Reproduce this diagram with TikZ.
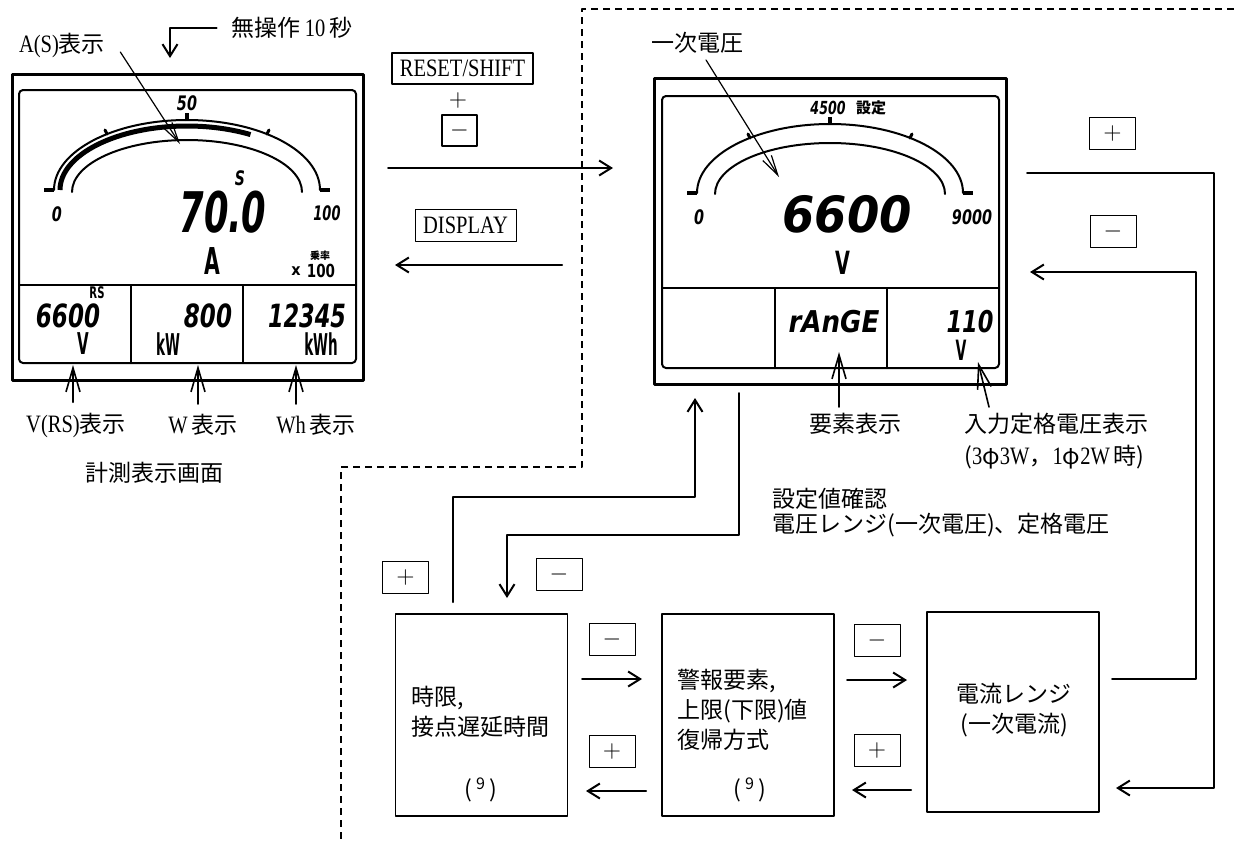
\documentclass[tikz,border=0pt]{standalone}
\usepackage{fontspec}
\setmainfont{Noto Sans CJK JP}
\newfontfamily\mono{Liberation Serif}[FakeStretch=0.82]
\newfontfamily\lcdf{DejaVu Sans}
\usetikzlibrary{calc,arrows.meta}
\newcommand{\latn}[1]{{\mono\fontsize{12.5}{15}\selectfont #1}}
\newcommand{\seg}[3]{\scalebox{#2}[1]{\fontsize{#1}{#1}\selectfont #3}}

\begin{document}
\begin{tikzpicture}[x=0.5pt,y=-0.5pt,line join=round,line cap=round,
  font=\fontsize{11.5}{15}\selectfont,
  >={Straight Barb[length=6pt,width=7.5pt]},
  meter/.style={draw,line width=1.5pt,inner sep=0,outer sep=0,minimum width=175.5pt,minimum height=153pt},
  lcd/.style={font=\lcdf\bfseries\itshape,inner sep=0},
  unit/.style={font=\lcdf\bfseries,inner sep=0},
  flow/.style={line width=1pt},
  pointer/.style={line width=0.6pt,-{Straight Barb[length=10pt,width=5pt]}},
  pin/.style={line width=0.8pt,-{Straight Barb[length=12pt,width=7pt]}},
  flowbox/.style={draw,line width=0.8pt,inner sep=0,outer sep=0,minimum width=86pt,minimum height=101pt},
  key/.style={draw,line width=0.5pt,inner sep=0,minimum width=23pt,minimum height=16pt},
  lbl/.style={inner sep=1pt}]
\useasboundingbox (0,0) rectangle (1234,842);

% dashed border of the setting area
\draw[line width=0.6pt,line cap=butt,dash pattern=on 3.5pt off 2.5pt] (1234,9) -- (582,9) -- (582,467) -- (341,467) -- (341,842);

% left meter
\node[meter] (lm) at (187.5,227) {};
\draw[line width=1pt,rounded corners=2pt] (19,90) rectangle (356,363);
\draw[line width=1pt] (19,285) -- (356,285) (131,285) -- (131,363) (243,285) -- (243,363);
\draw[line width=1pt] (54,190) arc[start angle=180,end angle=360,x radius=133,y radius=70];
\draw[line width=1pt] (72,192) arc[start angle=180,end angle=360,x radius=115,y radius=52];
\draw[line width=2.5pt,line cap=butt] (60,190) arc[start angle=180,end angle=300,x radius=127,y radius=64];
\draw[line width=2pt,line cap=butt] (44,190) -- (54,190) (320,190) -- (330,190) (187,121) -- (187,113);
\draw[line width=1.5pt] (107,134) -- (105,130) (267,134) -- (269,130);
\node[lcd] (l50) at (187,103) {\seg{10}{0.72}{50}};
\node[lcd] (lS) at (240,178) {\seg{10}{0.7}{S}};
\node[lcd] (l70) at (223,212) {\seg{28}{0.63}{70.0}};
\node[lcd] (l0) at (57,214) {\seg{10}{0.72}{0}};
\node[lcd] (l100) at (327,213) {\seg{10}{0.65}{100}};
\node[unit] (lA) at (212,261) {\seg{18.5}{0.55}{A}};
\node[unit] (lx) at (296,271) {\seg{8}{0.9}{x}};
\node[unit] (lmul) at (321,271) {\seg{9}{0.75}{100}};
\node[inner sep=0,font=\bfseries] (lrate) at (320,256) {\seg{5}{1}{乗率}};
\node[lcd] (lv) at (68,316) {\seg{16}{0.72}{6600}};
\node[unit] (lrs) at (97,293) {\seg{8}{0.63}{RS}};
\node[unit] (lvu) at (83,344) {\seg{15}{0.5}{V}};
\node[lcd] (lw) at (208,316) {\seg{16}{0.72}{800}};
\node[unit] (lwu) at (168,344) {\seg{15}{0.45}{kW}};
\node[lcd] (lwh) at (307,316) {\seg{16}{0.7}{12345}};
\node[unit] (lwhu) at (321,344) {\seg{15}{0.45}{kWh}};

% right meter
\node[meter,minimum width=176pt] (rm) at (830,231) {};
\draw[line width=1pt,rounded corners=2pt] (662,96) rectangle (999,368);
\draw[line width=1pt] (662,288) -- (999,288) (775,288) -- (775,368) (887,288) -- (887,368);
\draw[line width=1pt] (697,193) arc[start angle=180,end angle=360,x radius=133,y radius=69];
\draw[line width=1pt] (715,194) arc[start angle=180,end angle=360,x radius=115,y radius=51];
\draw[line width=2pt,line cap=butt] (687,193) -- (697,193) (963,193) -- (973,193) (830,125) -- (830,117);
\draw[line width=1.5pt] (750,138) -- (748,134) (910,138) -- (912,134);
\node[lcd] (r4500) at (828,108) {\seg{9}{0.7}{4500}};
\node[inner sep=0,font=\bfseries] (rset) at (871,108) {\seg{7.5}{1}{設定}};
\node[lcd] (r6600) at (847,214) {\seg{25}{0.93}{6600}};
\node[lcd] (r0) at (699,217) {\seg{10}{0.72}{0}};
\node[lcd] (r9000) at (972,217) {\seg{10}{0.72}{9000}};
\node[unit] (rV) at (843,263) {\seg{16}{0.6}{V}};
\node[lcd] (rrange) at (834,322) {\seg{15}{0.87}{rAnGE}};
\node[lcd] (r110) at (970,322) {\seg{15}{0.75}{110}};
\node[unit] (rVu) at (961,350) {\seg{14}{0.5}{V}};

% labels of the meters
\node[lbl] (asl) at (62,45) {\latn{A(S)}表示};
\node[lbl] (nop) at (292,28) {無操作\,\latn{10}\,秒};
\node[lbl] (vrs) at (76,425) {\latn{V(RS)}表示};
\node[lbl] (wl) at (203,425) {\latn{W}\,表示};
\node[lbl] (whl) at (316,425) {\latn{Wh}\,表示};
\node[lbl] (scr) at (154,473) {計測表示画面};
\node[lbl] (prim) at (697,43) {一次電圧};
\node[lbl] (elm) at (855,424) {要素表示};
\node[lbl,align=left,anchor=north west] (inp) at (962,411) {入力定格電圧表示\\[1pt](\latn{3}φ\latn{3W}，\latn{1}φ\latn{2W}\,時)};
\node[lbl,align=left,anchor=north west,font=\fontsize{11.5}{12.5}\selectfont] (chk) at (770,486) {設定値確認\\電圧レンジ(一次電圧)、定格電圧};

\coordinate (aSp) at (180,144);
\coordinate (primp) at (779,177);
\coordinate (cv) at (73,365);
\coordinate (cw) at (198,365);
\coordinate (cwh) at (296,365);
\coordinate (crng) at (839,352);
\coordinate (cvin) at (978,362);
\draw[pointer] ($(asl.east)+(13,7)$) -- (aSp);
\draw[pointer] ($(prim.south)+(9,4)$) -- (primp);
\draw[pin] ($(cv |- vrs.north)+(0,-8)$) -- (cv);
\draw[pin] ($(cw |- wl.north)+(0,-8)$) -- (cw);
\draw[pin] ($(cwh |- whl.north)+(0,-8)$) -- (cwh);
\draw[pin] ($(crng |- elm.north)+(0,-4)$) -- (crng);
\draw[pin] ($(inp.north west)+(27,-4)$) -- (cvin);

% keys
\node[key,line width=1pt,minimum width=70.5pt,minimum height=15.5pt] (reset) at (462.5,68.5) {\latn{RESET/SHIFT}};
\node[lbl] (plus) at (458,100) {$+$};
\node[key,line width=1pt,minimum width=17.5pt,minimum height=15.5pt] (mkey) at (459.5,130.5) {$-$};
\node[key,minimum width=50.5pt] (disp) at (465.5,225) {\latn{DISPLAY}};
\node[key] (rplus) at (1112.5,133) {$+$};
\node[key] (rminus) at (1113,231) {$-$};
\node[key] (tplus) at (405.5,577.5) {$+$};
\node[key] (tminus) at (559,574.5) {$-$};
\node[key] (m1) at (612,639) {$-$};
\node[key] (p1) at (612,751) {$+$};
\node[key] (m2) at (877,640) {$-$};
\node[key] (p2) at (877,750) {$+$};

% setting screens
\node[flowbox] (lim) at (481.5,715) {};
\node[flowbox] (alm) at (748,715) {};
\node[flowbox,minimum height=100pt] (cur) at (1013,712) {};
\node[lbl,anchor=west,align=left] (limt) at (409,712) {時限,\\接点遅延時間};
\node[lbl] (limn) at (481,790) {(\,\textsuperscript{9}\,)};
\node[lbl,anchor=west,align=left] (almt) at (675,710) {警報要素,\\上限(下限)値\\復帰方式};
\node[lbl] (almn) at (750,790) {(\,\textsuperscript{9}\,)};
\node[lbl,align=center] (curt) at (1014,710) {電流レンジ\\(一次電流)};

% connectors
\draw[flow,->] ($(nop.west)+(-13,0)$) -| ($(lm.north)+(-17.5,-16)$);
\draw[flow,->] ($(lm.east)+(25,-59)$) -- ($(rm.west)+(-41,-63)$);
\draw[flow,->] ($(rm.west)+(-92,34)$) -- ($(lm.east)+(32,38)$);
\draw[flow,->] ($(rm.east)+(21,-58)$) -| ($(cur.east)+(115,76)$) -- ($(cur.east)+(17,76)$);
\draw[flow,->] ($(cur.east)+(13,-33)$) -| ($(rm.east)+(190,41)$) -- ($(rm.east)+(24,41)$);
\draw[flow,->] ($(lim.north)+(-28.5,-12)$) |- ($(rm.south)+(-135,113)$) -- ($(rm.south)+(-135,14)$);
\draw[flow,->] ($(rm.south)+(-91,9)$) |- ($(lim.north)+(25.5,-79)$) -- ($(lim.north)+(25.5,-16)$);
\draw[flow,->] ($(lim.east)+(14.5,-36)$) -- ($(alm.west)+(-20,-36)$);
\draw[flow,->] ($(alm.west)+(-16,76)$) -- ($(lim.east)+(18.5,76)$);
\draw[flow,->] ($(alm.east)+(13,-35)$) -- ($(cur.west)+(-20,-32)$);
\draw[flow,->] ($(cur.west)+(-16,78)$) -- ($(alm.east)+(18,75)$);
\end{tikzpicture}
\end{document}
